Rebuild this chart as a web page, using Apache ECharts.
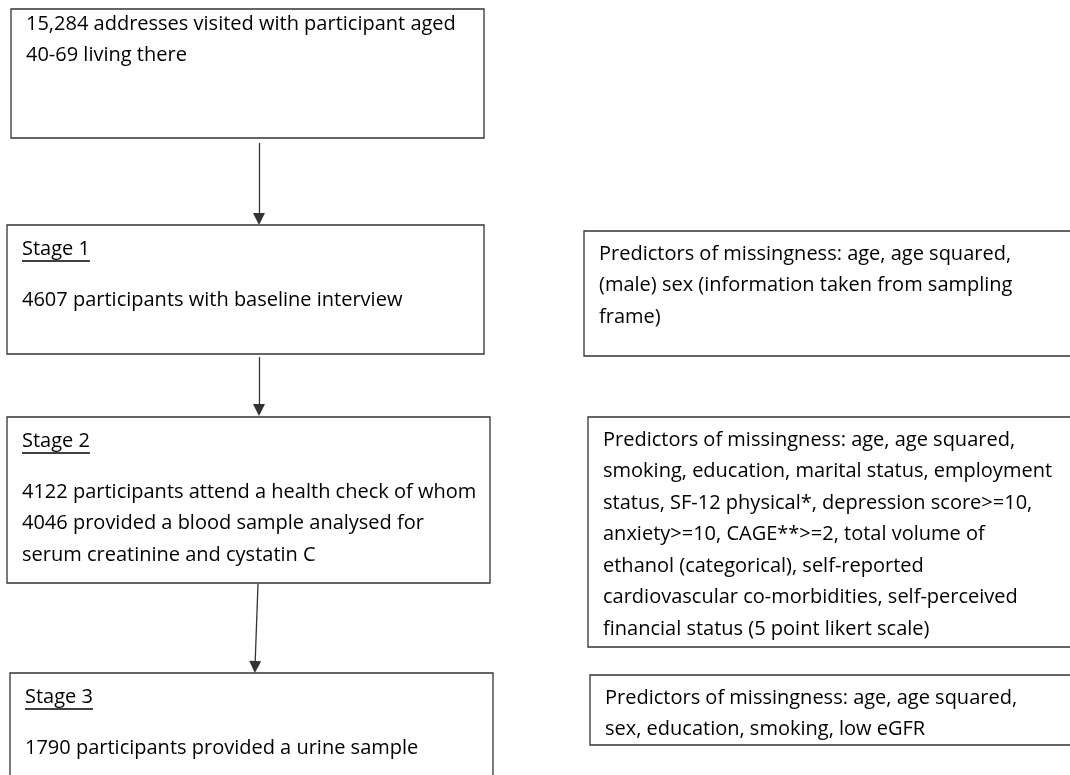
<!DOCTYPE html>
<html>
<head>
<meta charset="utf-8">
<script src="https://cdn.jsdelivr.net/npm/echarts@6/dist/echarts.min.js"></script>
<style>
  html, body { margin: 0; padding: 0; background: #fff; }
  #main { width: 1070px; height: 775px; }
</style>
</head>
<body>
<div id="main"></div>
<script>
// flow chart content
var stageTitles = ['', 'Stage 1', 'Stage 2', 'Stage 3'];
var stageTexts = [
  ['15,284 addresses visited with participant aged', '40-69 living there'],
  ['4607 participants with baseline interview'],
  ['4122 participants attend a health check of whom', '4046 provided a blood sample analysed for', 'serum creatinine and cystatin C'],
  ['1790 participants provided a urine sample']
];
var predictorTexts = [
  ['Predictors of missingness: age, age squared,', '(male) sex (information taken from sampling', 'frame)'],
  ['Predictors of missingness: age, age squared,', 'smoking, education, marital status, employment', 'status, SF-12 physical*, depression score>=10,',
   'anxiety>=10, CAGE**>=2, total volume of', 'ethanol (categorical), self-reported', 'cardiovascular co-morbidities, self-perceived',
   'financial status (5 point likert scale)'],
  ['Predictors of missingness: age, age squared,', 'sex, education, smoking, low eGFR']
];

// layout (page pixels, y down)
var stageBoxes = [[11, 9, 484, 138], [7, 225, 484, 354], [7, 417, 490, 583], [10, 673, 493, 800]];
var predictorBoxes = [[584, 231, 1080, 356], [588, 417, 1080, 647], [590, 675, 1080, 745]];
var arrowPaths = [
  [[259, 143], [259, 219]],
  [[259, 357], [259, 410]],
  [[258, 584], [255, 667]]
];

var FONT = '20px "Open Sans"';
var LINE_H = 31.5;
var canvas = document.createElement('canvas');
var ctx = canvas.getContext('2d');
ctx.font = FONT;

function boxItem(api, box, title, lines) {
  var p0 = api.coord([box[0], box[1]]);
  var p1 = api.coord([box[2], box[3]]);
  var children = [{
    type: 'rect',
    shape: { x: p0[0], y: p0[1], width: p1[0] - p0[0], height: p1[1] - p0[1] },
    style: { fill: '#fff', stroke: '#333', lineWidth: 1.3 }
  }];
  var tx = p0[0] + 15;
  var firstY;
  if (title === null) {
    firstY = p0[1] + 23;
  } else if (title === '') {
    firstY = p0[1] + 15;
  } else {
    var ty = p0[1] + 24;
    children.push({
      type: 'text',
      style: { text: title, x: tx, y: ty, font: FONT, fill: '#000', verticalAlign: 'middle' }
    });
    var w = ctx.measureText(title).width;
    children.push({
      type: 'line',
      shape: { x1: tx, y1: ty + 12, x2: tx + w, y2: ty + 12 },
      style: { stroke: '#000', lineWidth: 1.4 }
    });
    firstY = p0[1] + 75;
  }
  lines.forEach(function (s, i) {
    children.push({
      type: 'text',
      style: { text: s, x: tx, y: firstY + i * LINE_H, font: FONT, fill: '#000', verticalAlign: 'middle' }
    });
  });
  return { type: 'group', children: children };
}

var myChart = echarts.init(document.getElementById('main'), null, { renderer: 'canvas' });
var option = {
  animation: false,
  backgroundColor: '#fff',
  grid: { left: 0, right: 0, top: 0, bottom: 0 },
  xAxis: { type: 'value', min: 0, max: 1070, show: false },
  yAxis: { type: 'value', min: 0, max: 775, inverse: true, show: false },
  series: [
    {
      type: 'custom',
      clip: false,
      data: stageBoxes,
      renderItem: function (params, api) {
        var i = params.dataIndex;
        return boxItem(api, stageBoxes[i], stageTitles[i], stageTexts[i]);
      }
    },
    {
      type: 'custom',
      clip: false,
      data: predictorBoxes,
      renderItem: function (params, api) {
        var i = params.dataIndex;
        return boxItem(api, predictorBoxes[i], null, predictorTexts[i]);
      }
    },
    {
      type: 'lines',
      coordinateSystem: 'cartesian2d',
      polyline: false,
      symbol: ['none', 'triangle'],
      symbolSize: [12, 12],
      lineStyle: { color: '#333', width: 1.3, opacity: 1 },
      data: arrowPaths.map(function (c) { return { coords: c }; })
    }
  ]
};
option && myChart.setOption(option);
</script>
</body>
</html>
